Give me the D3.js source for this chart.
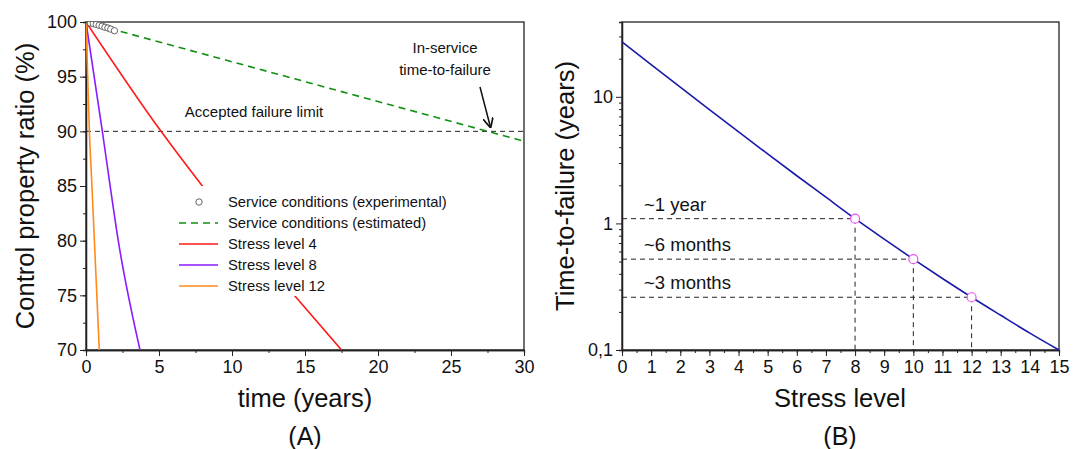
<!DOCTYPE html>
<html>
<head>
<meta charset="utf-8">
<script src="https://cdn.jsdelivr.net/npm/d3@7"></script>
<style>
  body { margin: 0; background: #fff; }
  text { font-family: Arial, "Liberation Sans", sans-serif; fill: #111; }
</style>
</head>
<body>
<div id="chart"></div>
<script>
// panel A data
let expTime = [0.3, 0.5, 0.7, 0.9, 1.1, 1.3, 1.5, 1.7, 1.95]
let expValue = [99.9, 99.85, 99.78, 99.7, 99.62, 99.52, 99.45, 99.35, 99.2]
let estTime = [0, 27.5, 30]
let estValue = [100, 90, 89.1]
let s4Time = [0, 5.14, 7.8, 14.4, 17.5]
let s4Value = [100, 90, 85.3, 74.8, 70]
let s8Time = [0, 1.12, 1.6, 2.21, 3.7]
let s8Value = [100, 90, 85.5, 80, 70]
let s12Time = [0, 0.23, 0.39, 0.91]
let s12Value = [100, 90, 85.5, 70]
let failureLimit = 90

// panel B data
let stressLevel = [0, 1, 2, 3, 4, 5, 6, 7, 8, 9, 10, 11, 12, 13, 14, 15]
let timeToFailure = [27.2, 17.97, 11.91, 7.92, 5.29, 3.54, 2.38, 1.61, 1.09, 0.751, 0.522, 0.367, 0.261, 0.188, 0.136, 0.1]
let markStress = [8, 10, 12]
let markTime = [1.09, 0.522, 0.261]
let markLabels = ["~1 year", "~6 months", "~3 months"]

let svg = d3.select("#chart").append("svg")
  .attr("width", 1073)
  .attr("height", 449)

// ---------- panel A ----------
let xA = d3.scaleLinear().domain([0, 30]).range([86, 524])
let yA = d3.scaleLinear().domain([70, 100]).range([350, 22])

let gA = svg.append("g")

// minor ticks first, then major
gA.append("g").attr("transform", "translate(0,350)")
  .call(d3.axisBottom(xA).tickValues(d3.range(0, 30.1, 2.5)).tickSize(3).tickFormat(""))
gA.append("g").attr("transform", "translate(0,350)").attr("class", "axA")
  .call(d3.axisBottom(xA).tickValues(d3.range(0, 31, 5)).tickSize(6).tickSizeOuter(0).tickPadding(4))
gA.append("g").attr("transform", "translate(86,0)")
  .call(d3.axisLeft(yA).tickValues(d3.range(70, 100.1, 2.5)).tickSize(3).tickFormat(""))
gA.append("g").attr("transform", "translate(86,0)").attr("class", "axA")
  .call(d3.axisLeft(yA).tickValues(d3.range(70, 101, 5)).tickSize(6).tickSizeOuter(0).tickPadding(3))

gA.append("rect")
  .attr("x", xA(0)).attr("y", yA(100))
  .attr("width", xA(30) - xA(0)).attr("height", yA(70) - yA(100))
  .style("fill", "none").style("stroke", "#222").style("stroke-width", 1.3)

let clipA = svg.append("clipPath").attr("id", "clipA")
clipA.append("rect").attr("x", 86).attr("y", 22).attr("width", 438).attr("height", 328)

let plotA = gA.append("g").attr("clip-path", "url(#clipA)")

// failure limit
plotA.append("line")
  .attr("x1", xA(0)).attr("x2", xA(30))
  .attr("y1", yA(failureLimit)).attr("y2", yA(failureLimit))
  .style("stroke", "#222").style("stroke-width", 1).style("stroke-dasharray", "5,4")

let lineA = d3.line()
  .x(d => xA(d[0]))
  .y(d => yA(d[1]))
  .curve(d3.curveMonotoneX)

let series = [
  { t: s4Time, v: s4Value, color: "#ff1a1a" },
  { t: s8Time, v: s8Value, color: "#8a1aff" },
  { t: s12Time, v: s12Value, color: "#ff8a1a" }
]
series.forEach(function (s) {
  plotA.append("path")
    .datum(s.t.map((t, i) => [t, s.v[i]]))
    .attr("d", lineA)
    .style("fill", "none").style("stroke", s.color).style("stroke-width", 1.6)
})

plotA.append("path")
  .datum(estTime.map((t, i) => [t, estValue[i]]))
  .attr("d", d3.line().x(d => xA(d[0])).y(d => yA(d[1])))
  .style("fill", "none").style("stroke", "#109010").style("stroke-width", 1.6)
  .style("stroke-dasharray", "7,5")

plotA.selectAll("circle.exp")
  .data(expTime.map((t, i) => [t, expValue[i]]))
  .enter().append("circle")
  .attr("class", "exp")
  .attr("cx", d => xA(d[0]))
  .attr("cy", d => yA(d[1]))
  .attr("r", 3.2)
  .style("fill", "#fff").style("stroke", "#555").style("stroke-width", 0.9)

// legend (white box hides the lines behind it)
let legend = gA.append("g")
legend.append("rect")
  .attr("x", 170).attr("y", 186).attr("width", 300).attr("height", 110)
  .style("fill", "#fff")
let legendItems = [
  { label: "Service conditions (experimental)", type: "circle", color: "#555" },
  { label: "Service conditions (estimated)", type: "dash", color: "#109010" },
  { label: "Stress level 4", type: "line", color: "#ff1a1a" },
  { label: "Stress level 8", type: "line", color: "#8a1aff" },
  { label: "Stress level 12", type: "line", color: "#ff8a1a" }
]
legendItems.forEach(function (d, i) {
  let y = 202 + i * 21
  if (d.type == "circle") {
    legend.append("circle").attr("cx", 199).attr("cy", y).attr("r", 3.2)
      .style("fill", "#fff").style("stroke", d.color).style("stroke-width", 0.9)
  } else {
    legend.append("line").attr("x1", 179).attr("x2", 218).attr("y1", y).attr("y2", y)
      .style("stroke", d.color).style("stroke-width", 1.6)
      .style("stroke-dasharray", d.type == "dash" ? "7,5" : null)
  }
  legend.append("text").attr("x", 228).attr("y", y + 5)
    .style("font-size", "14.8px").text(d.label)
})

gA.append("text").attr("x", 254).attr("y", 117).attr("text-anchor", "middle")
  .style("font-size", "15px").text("Accepted failure limit")
gA.append("text").attr("x", 445).attr("y", 53).attr("text-anchor", "middle")
  .style("font-size", "15px").text("In-service")
gA.append("text").attr("x", 445).attr("y", 75).attr("text-anchor", "middle")
  .style("font-size", "15px").text("time-to-failure")

svg.append("defs").append("marker")
  .attr("id", "arrow").attr("viewBox", "0 0 10 10")
  .attr("refX", 9).attr("refY", 5)
  .attr("markerWidth", 7).attr("markerHeight", 7)
  .attr("orient", "auto")
  .append("path").attr("d", "M0,0 L10,5 L0,10").style("fill", "none").style("stroke", "#111").style("stroke-width", 1.6)
gA.append("line")
  .attr("x1", 480).attr("y1", 87).attr("x2", xA(27.7)).attr("y2", yA(90.4))
  .style("stroke", "#111").style("stroke-width", 1.5)
  .attr("marker-end", "url(#arrow)")

gA.append("text")
  .attr("transform", "translate(34,186) rotate(-90)")
  .attr("text-anchor", "middle")
  .style("font-size", "25.5px")
  .text("Control property ratio (%)")
gA.append("text").attr("x", 305).attr("y", 407).attr("text-anchor", "middle")
  .style("font-size", "25.5px").text("time (years)")
gA.append("text").attr("x", 305).attr("y", 445).attr("text-anchor", "middle")
  .style("font-size", "25px").text("(A)")

// ---------- panel B ----------
let xB = d3.scaleLinear().domain([0, 15]).range([622, 1059])
let yB = d3.scaleLog().domain([0.1, 39]).range([350, 22])

let gB = svg.append("g")

gB.append("g").attr("transform", "translate(0,350)")
  .call(d3.axisBottom(xB).tickValues(d3.range(0, 15.1, 0.5)).tickSize(3).tickFormat(""))
gB.append("g").attr("transform", "translate(0,350)").attr("class", "axA")
  .call(d3.axisBottom(xB).tickValues(d3.range(0, 16, 1)).tickSize(6).tickSizeOuter(0).tickPadding(4))

let minorB = yB.ticks().filter(v => [0.1, 1, 10].indexOf(v) < 0)
gB.append("g").attr("transform", "translate(622,0)")
  .call(d3.axisLeft(yB).tickValues(minorB).tickSize(3).tickFormat(""))
gB.append("g").attr("transform", "translate(622,0)").attr("class", "axA")
  .call(d3.axisLeft(yB).tickValues([0.1, 1, 10]).tickSize(6).tickSizeOuter(0).tickPadding(3)
    .tickFormat(d => d == 0.1 ? "0,1" : d3.format("d")(d)))

gB.append("rect")
  .attr("x", 622).attr("y", 22).attr("width", 437).attr("height", 328)
  .style("fill", "none").style("stroke", "#222").style("stroke-width", 1.3)

markStress.forEach(function (s, i) {
  gB.append("line")
    .attr("x1", xB(0)).attr("x2", xB(s))
    .attr("y1", yB(markTime[i])).attr("y2", yB(markTime[i]))
    .style("stroke", "#222").style("stroke-width", 1).style("stroke-dasharray", "5,4")
  gB.append("line")
    .attr("x1", xB(s)).attr("x2", xB(s))
    .attr("y1", yB(markTime[i])).attr("y2", yB(0.1))
    .style("stroke", "#222").style("stroke-width", 1).style("stroke-dasharray", "5,4")
  gB.append("text")
    .attr("x", 644).attr("y", yB(markTime[i]) - 8)
    .style("font-size", "18.5px").text(markLabels[i])
})

gB.append("path")
  .datum(stressLevel.map((s, i) => [s, timeToFailure[i]]))
  .attr("d", d3.line().x(d => xB(d[0])).y(d => yB(d[1])).curve(d3.curveMonotoneX))
  .style("fill", "none").style("stroke", "#1a1aaa").style("stroke-width", 1.6)

gB.selectAll("circle.mark")
  .data(markStress)
  .enter().append("circle")
  .attr("class", "mark")
  .attr("cx", d => xB(d))
  .attr("cy", (d, i) => yB(markTime[i]))
  .attr("r", 4.5)
  .style("fill", "#fff").style("stroke", "#f050f0").style("stroke-width", 1.2)

gB.append("text")
  .attr("transform", "translate(574,186) rotate(-90)")
  .attr("text-anchor", "middle")
  .style("font-size", "25.5px")
  .text("Time-to-failure (years)")
gB.append("text").attr("x", 840).attr("y", 407).attr("text-anchor", "middle")
  .style("font-size", "25.5px").text("Stress level")
gB.append("text").attr("x", 840).attr("y", 445).attr("text-anchor", "middle")
  .style("font-size", "25px").text("(B)")

// axis styling
svg.selectAll(".axA text").style("font-size", "18px").style("fill", "#111")
svg.selectAll(".domain").style("stroke", "#222").style("stroke-width", 1.3)
svg.selectAll(".tick line").style("stroke", "#222")
</script>
</body>
</html>
